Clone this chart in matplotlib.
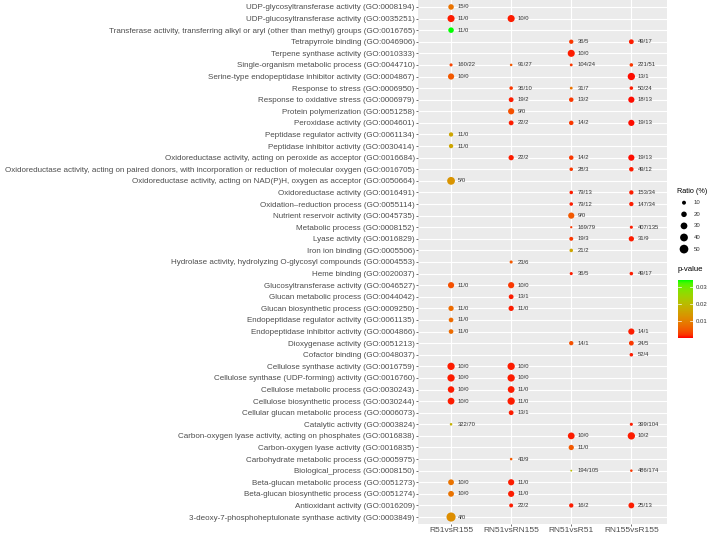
import numpy as np
import matplotlib
matplotlib.use("Agg")
import matplotlib.pyplot as plt
from matplotlib.colors import LinearSegmentedColormap, Normalize

plt.rcParams["font.family"] = ["Liberation Sans", "DejaVu Sans"]

terms = [
    "UDP-glycosyltransferase activity (GO:0008194)",
    "UDP-glucosyltransferase activity (GO:0035251)",
    "Transferase activity, transferring alkyl or aryl (other than methyl) groups (GO:0016765)",
    "Tetrapyrrole binding (GO:0046906)",
    "Terpene synthase activity (GO:0010333)",
    "Single-organism metabolic process (GO:0044710)",
    "Serine-type endopeptidase inhibitor activity (GO:0004867)",
    "Response to stress (GO:0006950)",
    "Response to oxidative stress (GO:0006979)",
    "Protein polymerization (GO:0051258)",
    "Peroxidase activity (GO:0004601)",
    "Peptidase regulator activity (GO:0061134)",
    "Peptidase inhibitor activity (GO:0030414)",
    "Oxidoreductase activity, acting on peroxide as acceptor (GO:0016684)",
    "Oxidoreductase activity, acting on paired donors, with incorporation or reduction of molecular oxygen (GO:0016705)",
    "Oxidoreductase activity, acting on NAD(P)H, oxygen as acceptor (GO:0050664)",
    "Oxidoreductase activity (GO:0016491)",
    "Oxidation\u2013reduction process (GO:0055114)",
    "Nutrient reservoir activity (GO:0045735)",
    "Metabolic process (GO:0008152)",
    "Lyase activity (GO:0016829)",
    "Iron ion binding (GO:0005506)",
    "Hydrolase activity, hydrolyzing O-glycosyl compounds (GO:0004553)",
    "Heme binding (GO:0020037)",
    "Glucosyltransferase activity (GO:0046527)",
    "Glucan metabolic process (GO:0044042)",
    "Glucan biosynthetic process (GO:0009250)",
    "Endopeptidase regulator activity (GO:0061135)",
    "Endopeptidase inhibitor activity (GO:0004866)",
    "Dioxygenase activity (GO:0051213)",
    "Cofactor binding (GO:0048037)",
    "Cellulose synthase activity (GO:0016759)",
    "Cellulose synthase (UDP-forming) activity (GO:0016760)",
    "Cellulose metabolic process (GO:0030243)",
    "Cellulose biosynthetic process (GO:0030244)",
    "Cellular glucan metabolic process (GO:0006073)",
    "Catalytic activity (GO:0003824)",
    "Carbon-oxygen lyase activity, acting on phosphates (GO:0016838)",
    "Carbon-oxygen lyase activity (GO:0016835)",
    "Carbohydrate metabolic process (GO:0005975)",
    "Biological_process (GO:0008150)",
    "Beta-glucan metabolic process (GO:0051273)",
    "Beta-glucan biosynthetic process (GO:0051274)",
    "Antioxidant activity (GO:0016209)",
    "3-deoxy-7-phosphoheptulonate synthase activity (GO:0003849)",
]

comparisons = ["R51vsR155", "RN51vsRN155", "RN51vsR51", "RN155vsR155"]

# (term row from top, count label, ratio %, p-value)
r51_r155 = [
    (1, "15/0", 20, 0.008), (2, "11/0", 33, 0.001), (3, "11/0", 20, 0.034),
    (6, "160/22", 6, 0.003), (7, "10/0", 25, 0.005), (12, "11/0", 12, 0.016),
    (13, "11/0", 12, 0.016), (16, "5/0", 40, 0.013), (25, "11/0", 25, 0.004),
    (27, "11/0", 18, 0.007), (28, "11/0", 14, 0.007), (29, "11/0", 14, 0.007),
    (32, "10/0", 35, 0.001), (33, "10/0", 35, 0.001), (34, "10/0", 28, 0.001),
    (35, "10/0", 30, 0.001), (37, "322/70", 4, 0.018), (42, "10/0", 22, 0.008),
    (43, "10/0", 22, 0.008), (45, "4/0", 55, 0.012),
]
rn51_rn155 = [
    (2, "10/0", 33, 0.001), (6, "91/27", 4, 0.005), (8, "36/10", 8, 0.002),
    (9, "19/2", 15, 0.001), (10, "9/0", 25, 0.004), (11, "22/2", 15, 0.001),
    (14, "22/2", 18, 0.001), (23, "23/6", 6, 0.005), (25, "10/0", 25, 0.002),
    (26, "13/1", 15, 0.001), (27, "11/0", 18, 0.001), (32, "10/0", 35, 0.001),
    (33, "10/0", 35, 0.001), (34, "11/0", 30, 0.001), (35, "11/0", 35, 0.001),
    (36, "13/1", 15, 0.001), (40, "43/9", 4, 0.005), (42, "11/0", 25, 0.001),
    (43, "11/0", 25, 0.001), (44, "22/2", 10, 0.001),
]
rn51_r51 = [
    (4, "36/5", 12, 0.002), (5, "10/0", 33, 0.001), (6, "104/24", 5, 0.002),
    (8, "31/7", 5, 0.008), (9, "13/2", 13, 0.002), (11, "14/2", 13, 0.002),
    (14, "14/2", 13, 0.002), (15, "28/3", 8, 0.002), (17, "79/13", 8, 0.001),
    (18, "79/12", 8, 0.001), (19, "9/0", 25, 0.005), (20, "169/79", 3, 0.002),
    (21, "19/3", 10, 0.002), (22, "21/2", 8, 0.016), (24, "36/5", 6, 0.001),
    (30, "14/1", 12, 0.004), (38, "10/0", 30, 0.001), (39, "11/0", 18, 0.005),
    (41, "194/105", 2, 0.020), (44, "16/2", 12, 0.001),
]
rn155_r155 = [
    (4, "49/17", 15, 0.001), (6, "221/51", 8, 0.002), (7, "13/1", 35, 0.0005),
    (8, "50/24", 8, 0.001), (9, "18/13", 25, 0.0005), (11, "19/13", 25, 0.0005),
    (14, "19/13", 25, 0.0005), (15, "49/12", 13, 0.001), (17, "153/34", 12, 0.001),
    (18, "147/34", 12, 0.001), (20, "407/135", 6, 0.001), (21, "31/9", 18, 0.001),
    (24, "49/17", 8, 0.001), (29, "14/1", 25, 0.001), (30, "24/5", 15, 0.002),
    (31, "52/4", 8, 0.001), (37, "399/104", 6, 0.001), (38, "10/2", 35, 0.001),
    (41, "486/174", 4, 0.002), (44, "25/13", 22, 0.001),
]
series = [r51_r155, rn51_rn155, rn51_r51, rn155_r155]

size_breaks = [10, 20, 30, 40, 50]
p_ticks = [0.01, 0.02, 0.03]
p_min, p_max = 0.0, 0.034


def lab_to_rgb(L, a, b):
    fy = (L + 16) / 116
    fx = fy + a / 500
    fz = fy - b / 200

    def finv(t):
        return np.where(t > 6 / 29, t ** 3, 3 * (6 / 29) ** 2 * (t - 4 / 29))

    xyz = np.array([0.95047 * finv(fx), finv(fy), 1.08883 * finv(fz)])
    m = np.array([[3.2406, -1.5372, -0.4986],
                  [-0.9689, 1.8758, 0.0415],
                  [0.0557, -0.2040, 1.0570]])
    lin = m @ xyz
    rgb = np.where(lin <= 0.0031308, 12.92 * lin, 1.055 * np.abs(lin) ** (1 / 2.4) - 0.055)
    return np.clip(rgb, 0, 1)


# red -> green gradient interpolated in Lab, like ggplot
red_lab = np.array([53.24, 80.09, 67.20])
green_lab = np.array([87.73, -86.18, 83.18])
stops = np.linspace(0, 1, 21)
cols = [lab_to_rgb(*(red_lab + t * (green_lab - red_lab))) for t in stops]
cmap = LinearSegmentedColormap.from_list("rg", list(zip(stops, cols)))
norm = Normalize(p_min, p_max)


def dot_size(r):
    return 0.78 * np.asarray(r, dtype=float) + 0.3


W, H = 709, 535
fig = plt.figure(figsize=(W / 100, H / 100), dpi=100)
ax = fig.add_axes([418 / W, 1 - 524 / H, (667.4 - 418) / W, 524 / H])
ax.set_facecolor("#EBEBEB")

n = len(terms)
for ci, data in enumerate(series):
    ys = [n - d[0] for d in data]
    xs = [ci] * len(data)
    ax.scatter(xs, ys, s=dot_size([d[2] for d in data]), c=[d[3] for d in data],
               cmap=cmap, norm=norm, linewidths=0, zorder=3)
    for d, y in zip(data, ys):
        ax.text(ci + 0.11, y, d[1], fontsize=4.2, color="#333333",
                ha="left", va="center", zorder=4)

ax.set_xlim(-0.55, 3.6)
ax.set_ylim(-0.6, n - 0.4)
ax.set_xticks(range(len(comparisons)))
ax.set_xticklabels(comparisons, fontsize=6.0, color="#4D4D4D")
ax.set_yticks(range(n))
ax.set_yticklabels(terms[::-1], fontsize=5.75, color="#4D4D4D")
ax.tick_params(length=1.6, width=0.5, color="#333333", pad=0.8)
ax.tick_params(axis="x", pad=0.3)
ax.grid(True, color="white", linewidth=0.8)
ax.set_axisbelow(True)
for sp in ax.spines.values():
    sp.set_visible(False)

# size legend
lax = fig.add_axes([676 / W, 1 - 256 / H, 33 / W, 70 / H])
lax.set_xlim(0, 33)
lax.set_ylim(256, 186)
lax.axis("off")
fig.text(677 / W, 1 - 191 / H, "Ratio (%)", fontsize=5.2, color="black",
         ha="left", va="center")
ly = 202.7 + 11.6 * np.arange(len(size_breaks))
lax.scatter([8] * len(size_breaks), ly, s=dot_size(size_breaks), c="black", linewidths=0)
for v, y in zip(size_breaks, ly):
    lax.text(18, y, str(v), fontsize=4.3, color="#333333", ha="left", va="center")

# p-value colour bar
fig.text(678 / W, 1 - 270 / H, "p-value", fontsize=5.6, color="black",
         ha="left", va="center")
cax = fig.add_axes([678 / W, 1 - 338 / H, 15 / W, 58 / H])
grad = np.linspace(p_min, p_max, 256).reshape(-1, 1)
cax.imshow(grad, aspect="auto", origin="lower", cmap=cmap, norm=norm,
           extent=[0, 1, p_min, p_max])
for t in p_ticks:
    cax.plot([0, 0.2], [t, t], color="white", lw=0.5)
    cax.plot([0.8, 1], [t, t], color="white", lw=0.5)
cax.set_xlim(0, 1)
cax.set_ylim(p_min, p_max)
cax.set_xticks([])
cax.yaxis.tick_right()
cax.set_yticks(p_ticks)
cax.set_yticklabels([f"{t:.2f}" for t in p_ticks], fontsize=4.3, color="#333333")
cax.tick_params(length=0, pad=2)
for sp in cax.spines.values():
    sp.set_visible(False)

fig.savefig("out.png", dpi=100)
